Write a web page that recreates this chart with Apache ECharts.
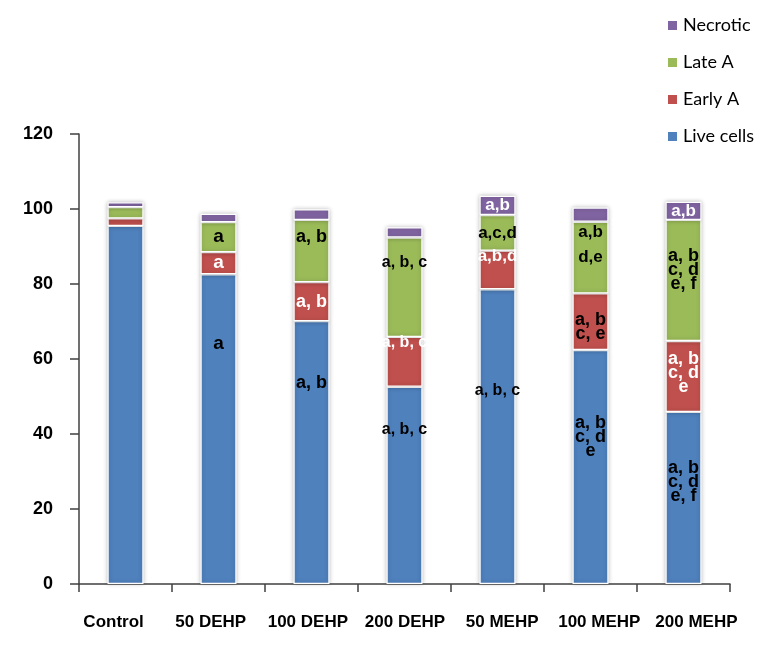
<!DOCTYPE html>
<html>
<head>
<meta charset="utf-8">
<script src="https://cdn.jsdelivr.net/npm/echarts@6/dist/echarts.min.js"></script>
<style>html,body{margin:0;padding:0;background:#fff}#c{width:771px;height:648px}</style>
</head>
<body>
<div id="c"></div>
<script>
// ---- data ----
const categories = ['Control', '50 DEHP', '100 DEHP', '200 DEHP', '50 MEHP', '100 MEHP', '200 MEHP'];
const liveCells = [95.5, 82.6, 70.1, 52.6, 78.6, 62.4, 45.9];
const earlyA    = [2.0, 5.9, 10.4, 13.3, 10.3, 15.1, 18.9];
const lateA     = [3.0, 8.0, 16.6, 26.5, 9.5, 19.1, 32.3];
const necrotic  = [1.3, 2.2, 2.8, 2.7, 5.1, 3.8, 4.8];
const yTicks = [0, 20, 40, 60, 80, 100, 120];
// significance letters shown in each segment
const liveText     = ['', 'a', 'a, b', 'a, b, c', 'a, b, c', 'a, b\nc, d\ne', 'a, b\nc, d\ne, f'];
const earlyText    = ['', 'a', 'a, b', 'a, b, c', 'a,b,d', 'a, b\nc, e', 'a, b\nc, d\ne'];
const lateText     = ['', 'a', 'a, b', 'a, b, c', 'a,c,d', 'a,b\nd,e', 'a, b\nc, d\ne, f'];
const necroticText = ['', '', '', '', 'a,b', '', 'a,b'];

// ---- label styling (offset of label centre from segment top, px) ----
const labelStyle = {
  live:  [null, {dy:70, size:19}, {dy:62}, {dy:43, size:16}, {dy:101, size:16}, {dy:87}, {dy:70}],
  early: [null, {c:'#fff', size:19}, {c:'#fff'}, {dy:6, c:'#fff', size:16}, {dy:6, c:'#fff', size:17}, {dy:34}, {dy:32, c:'#fff'}],
  late:  [null, {size:19}, {dy:17}, {dy:25, size:16}, {size:17}, {dy:23, lh:25, size:17}, {dy:50}],
  nec:   [null, null, null, null, {c:'#fff', size:17}, null, {c:'#fff', size:17}]
};

const colors = {live:'#4F81BD', early:'#C0504D', late:'#9BBB59', nec:'#8064A2'};

function build(values, texts, key) {
  return values.map((v, i) => {
    const st = labelStyle[key][i];
    const item = {value: v};
    if (texts[i] && st) {
      item.label = {
        show: true,
        formatter: texts[i],
        position: st.dy != null ? ['50%', st.dy] : 'inside',
        align: 'center',
        verticalAlign: 'middle',
        color: st.c || '#000',
        fontSize: st.size || 18,
        lineHeight: st.lh || 14,
        fontWeight: 'bold',
        fontFamily: '"Liberation Sans", Arial, sans-serif'
      };
    }
    return item;
  });
}

function series(name, values, texts, key) {
  return {
    name: name,
    type: 'bar',
    stack: 'total',
    barWidth: 36,
    xAxisIndex: 0, yAxisIndex: 0,
    itemStyle: {
      color: colors[key],
      borderColor: '#fff',
      borderWidth: 1.2,
      shadowBlur: 4,
      shadowColor: 'rgba(0,0,0,0.25)'
    },
    label: {show: false},
    emphasis: {disabled: true},
    data: build(values, texts, key)
  };
}

const chart = echarts.init(document.getElementById('c'), null, {renderer: 'canvas'});
chart.setOption({
  animation: false,
  backgroundColor: '#fff',
  legend: {
    orient: 'vertical',
    left: 661,
    top: 11,
    itemWidth: 11,
    itemHeight: 11,
    itemGap: 18,
    icon: 'rect',
    data: ['Necrotic', 'Late A', 'Early A', 'Live cells'],
    textStyle: {fontFamily: 'Lato, "Open Sans", sans-serif', fontSize: 18, lineHeight: 19, color: '#000'}
  },
  grid: [
    {left: 79, right: 41, top: 134, bottom: 64},
    {left: 65, right: 26, top: 134, bottom: 64}
  ],
  xAxis: [
    {
      type: 'category', data: categories, gridIndex: 0,
      axisLine: {lineStyle: {color: '#404040', width: 1.5}},
      axisTick: {show: true, length: 8, lineStyle: {color: '#404040', width: 1.5}},
      axisLabel: {show: false}
    },
    {
      type: 'category', data: categories, gridIndex: 1,
      axisLine: {show: false}, axisTick: {show: false},
      axisLabel: {interval: 0, margin: 30, color: '#000', fontSize: 17, fontWeight: 'bold', fontFamily: '"Liberation Sans", Arial, sans-serif'}
    }
  ],
  yAxis: [
    {
      type: 'value', min: yTicks[0], max: yTicks[yTicks.length - 1], interval: 20, gridIndex: 0,
      axisLine: {show: true, lineStyle: {color: '#404040', width: 1.5}},
      axisTick: {show: true, length: 9, lineStyle: {color: '#404040', width: 1.5}},
      splitLine: {show: false},
      axisLabel: {margin: 26, color: '#000', fontSize: 18, fontWeight: 'bold', fontFamily: '"Liberation Sans", Arial, sans-serif'}
    },
    {
      type: 'value', min: 0, max: 120, gridIndex: 1, show: false, splitLine: {show: false}
    }
  ],
  series: [
    series('Live cells', liveCells, liveText, 'live'),
    series('Early A', earlyA, earlyText, 'early'),
    series('Late A', lateA, lateText, 'late'),
    series('Necrotic', necrotic, necroticText, 'nec')
  ]
});
</script>
</body>
</html>
